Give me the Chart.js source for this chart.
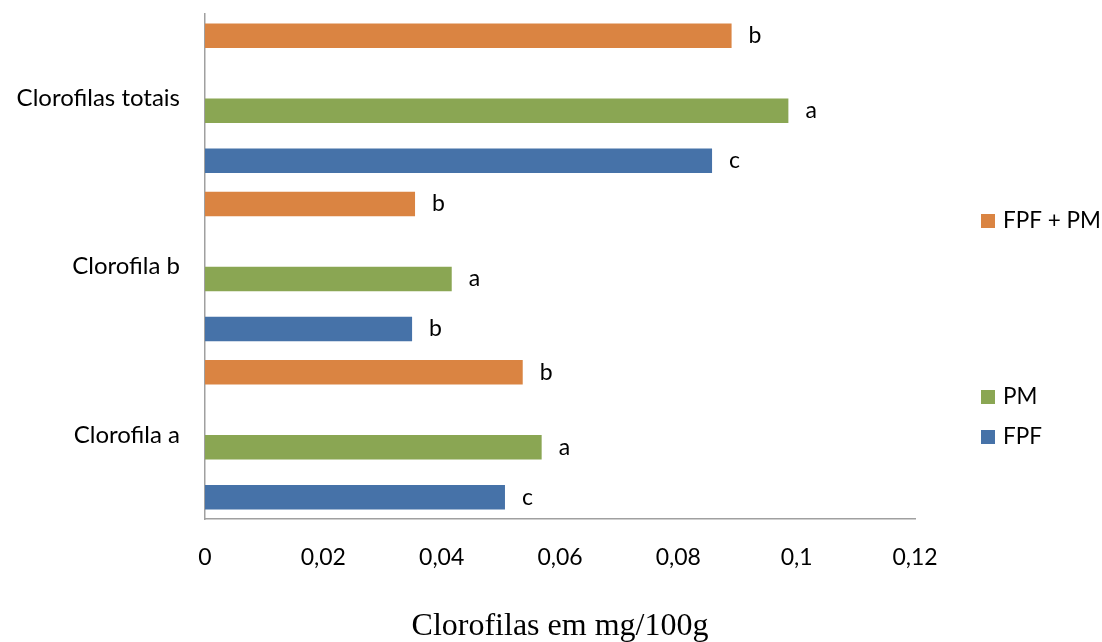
<!DOCTYPE html>
<html>
<head>
<meta charset="utf-8">
<script src="https://cdn.jsdelivr.net/npm/chart.js@4/dist/chart.umd.min.js"></script>
<style>
  html, body { margin: 0; padding: 0; background: #ffffff; }
  #wrap { width: 1102px; height: 642px; }
</style>
</head>
<body>
<div id="wrap"><canvas id="chart" width="1102" height="642"></canvas></div>
<script>
// Categories, listed top to bottom as drawn
const categories = ['Clorofilas totais', 'Clorofila b', 'Clorofila a'];

// Chlorophyll content (mg/100g) per treatment
const fpf   = [0.0857, 0.0350, 0.0507];
const pm    = [0.0986, 0.0417, 0.0569];
const fpfPm = [0.0890, 0.0355, 0.0537];

// Significance letters shown beside each bar
const fpfLetters   = ['c', 'b', 'c'];
const pmLetters    = ['a', 'a', 'a'];
const fpfPmLetters = ['b', 'b', 'b'];

// Value-axis tick labels (Portuguese decimal comma)
const xTickLabels = ['0', '0,02', '0,04', '0,06', '0,08', '0,1', '0,12'];

const seriesNames = ['FPF + PM', 'PM', 'FPF'];
const colors = { fpfPm: '#DA8442', pm: '#8AA653', fpf: '#4672A8' };

const FONT = 'Lato, "Open Sans", "Liberation Sans", sans-serif';

// Empty slots keep the spacing of the bar groups
const blank = () => ({ label: '', data: categories.map(() => null), backgroundColor: 'rgba(0,0,0,0)' });

const datasets = [
  { label: seriesNames[0], data: fpfPm, backgroundColor: colors.fpfPm, letters: fpfPmLetters },
  blank(),
  blank(),
  { label: seriesNames[1], data: pm, backgroundColor: colors.pm, letters: pmLetters },
  blank(),
  { label: seriesNames[2], data: fpf, backgroundColor: colors.fpf, letters: fpfLetters }
];

// Letters to the right of each bar
const letterPlugin = {
  id: 'letters',
  afterDatasetsDraw(chart) {
    const ctx = chart.ctx;
    ctx.save();
    ctx.font = '23px ' + FONT;
    ctx.fillStyle = '#000000';
    ctx.textAlign = 'left';
    ctx.textBaseline = 'middle';
    chart.data.datasets.forEach((ds, di) => {
      if (!ds.letters) return;
      const meta = chart.getDatasetMeta(di);
      meta.data.forEach((bar, i) => {
        ctx.fillText(ds.letters[i], bar.x + 17, bar.y);
      });
    });
    ctx.restore();
  }
};

// Legend on the right and the value-axis title
const sideLegendPlugin = {
  id: 'sideLegend',
  afterDraw(chart) {
    const ctx = chart.ctx;
    ctx.save();
    const items = [
      { text: seriesNames[0], color: colors.fpfPm, y: 221 },
      { text: seriesNames[1], color: colors.pm, y: 397 },
      { text: seriesNames[2], color: colors.fpf, y: 437 }
    ];
    ctx.font = '22.5px ' + FONT;
    ctx.textAlign = 'left';
    ctx.textBaseline = 'middle';
    items.forEach(it => {
      ctx.fillStyle = it.color;
      ctx.fillRect(981, it.y - 7, 14, 14);
      ctx.fillStyle = '#000000';
      ctx.fillText(it.text, 1003, it.y);
    });
    ctx.font = '32px "Liberation Serif", "Times New Roman", serif';
    ctx.textAlign = 'center';
    ctx.textBaseline = 'alphabetic';
    const area = chart.chartArea;
    ctx.fillText('Clorofilas em mg/100g', (area.left + area.right) / 2, 635);
    ctx.restore();
  }
};

new Chart(document.getElementById('chart'), {
  type: 'bar',
  data: { labels: categories, datasets },
  options: {
    indexAxis: 'y',
    responsive: false,
    animation: false,
    devicePixelRatio: 1,
    layout: { padding: { left: 0, right: 187, top: 14, bottom: 0 } },
    datasets: { bar: { categoryPercentage: 0.891, barPercentage: 0.98 } },
    plugins: {
      legend: { display: false },
      tooltip: { enabled: false }
    },
    scales: {
      x: {
        min: 0,
        max: 0.12,
        ticks: {
          stepSize: 0.02,
          padding: 25,
          color: '#000000',
          font: { family: FONT, size: 23 },
          callback: (v, i) => xTickLabels[i]
        },
        grid: { display: false, drawTicks: false },
        border: { display: true, color: '#a0a0a0', width: 1.5 },
        afterFit: s => { s.height = 123; }
      },
      y: {
        ticks: {
          padding: 25,
          color: '#000000',
          font: { family: FONT, size: 24 }
        },
        grid: { display: false, drawTicks: false },
        border: { display: true, color: '#a0a0a0', width: 1.5 },
        afterFit: s => { s.width = 205; s.paddingTop = 0; s.paddingBottom = 0; }
      }
    }
  },
  plugins: [letterPlugin, sideLegendPlugin]
});
</script>
</body>
</html>
